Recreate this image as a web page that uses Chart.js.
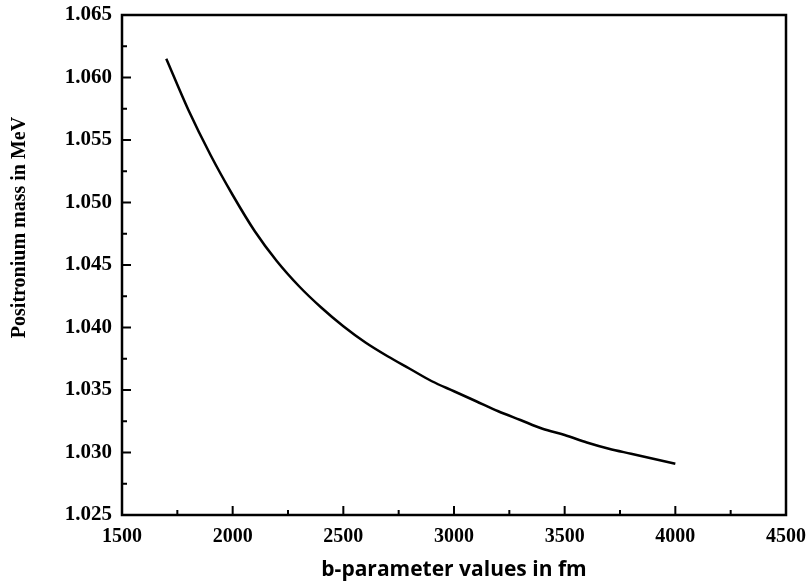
<!DOCTYPE html>
<html>
<head>
<meta charset="utf-8">
<script src="https://cdn.jsdelivr.net/npm/chart.js@4/dist/chart.umd.min.js"></script>
<style>
    html, body { margin: 0; padding: 0; background: #fff; }
    #wrap { width: 808px; height: 588px; }
</style>
</head>
<body>
<div id="wrap"><canvas id="massChart" width="808" height="588"></canvas></div>
<script>
// b-parameter (fm) vs positronium mass (MeV)
const bValues = [1700, 1800, 1900, 2000, 2100, 2200, 2300, 2400, 2500, 2600, 2700, 2800,
                 2900, 3000, 3100, 3200, 3300, 3400, 3500, 3600, 3700, 3800, 3900, 4000]
const massValues = [1.0615, 1.0574, 1.0538, 1.0506, 1.0477, 1.0453, 1.0433, 1.0416, 1.0401, 1.0388, 1.0377, 1.0367,
                    1.0357, 1.0349, 1.0341, 1.0333, 1.0326, 1.0319, 1.0314, 1.0308, 1.0303, 1.0299, 1.0295, 1.0291]

const xMin = 1500, xMax = 4500, xStep = 500
const yMin = 1.025, yMax = 1.065, yStep = 0.005

const xTitle = "b-parameter values in fm"
const yTitle = "Positronium mass in MeV"

const points = bValues.map((b, i) => ({ x: b, y: massValues[i] }))

// frame + inward ticks (major and minor) on left and bottom axes
const frameAndTicks = {
    id: "frameAndTicks",
    afterDraw(chart) {
        const ctx = chart.ctx
        const a = chart.chartArea
        const x = chart.scales.x
        const y = chart.scales.y

        ctx.save()
        ctx.strokeStyle = "#000"
        ctx.lineWidth = 2
        ctx.beginPath()

        const nx = Math.round((xMax - xMin) / (xStep / 2))
        for (let i = 0; i <= nx; i++) {
            const px = x.getPixelForValue(xMin + i * xStep / 2)
            const len = i % 2 === 0 ? 9 : 5
            ctx.moveTo(px, a.bottom)
            ctx.lineTo(px, a.bottom - len)
        }

        const ny = Math.round((yMax - yMin) / (yStep / 2))
        for (let i = 0; i <= ny; i++) {
            const py = y.getPixelForValue(yMin + i * yStep / 2)
            const len = i % 2 === 0 ? 9 : 5
            ctx.moveTo(a.left, py)
            ctx.lineTo(a.left + len, py)
        }
        ctx.stroke()

        ctx.lineWidth = 2.5
        ctx.strokeRect(a.left, a.top, a.right - a.left, a.bottom - a.top)
        ctx.restore()
    }
}

const ctx = document.getElementById("massChart").getContext("2d")

new Chart(ctx, {
    type: "line",
    data: {
        datasets: [{
            data: points,
            borderColor: "#000",
            borderWidth: 2.5,
            pointRadius: 0,
            cubicInterpolationMode: "monotone",
            fill: false
        }]
    },
    options: {
        responsive: false,
        animation: false,
        layout: {
            padding: { left: 0, top: 15, right: 22, bottom: 0 }
        },
        plugins: {
            legend: { display: false },
            tooltip: { enabled: false }
        },
        scales: {
            x: {
                type: "linear",
                min: xMin,
                max: xMax,
                ticks: {
                    stepSize: xStep,
                    color: "#000",
                    padding: 10,
                    maxRotation: 0,
                    callback: v => String(v),
                    font: { family: "Liberation Serif", size: 20, weight: "bold" }
                },
                grid: { display: false, drawTicks: false },
                border: { display: false },
                title: {
                    display: true,
                    text: xTitle,
                    color: "#000",
                    padding: { top: 0, bottom: 5 },
                    font: { family: "Open Sans", size: 21, weight: "bold" }
                },
                afterFit(scale) {
                    scale.height = 73
                    scale.paddingLeft = 0
                    scale.paddingRight = 0
                }
            },
            y: {
                min: yMin,
                max: yMax,
                ticks: {
                    stepSize: yStep,
                    color: "#000",
                    padding: 10,
                    callback: v => v.toFixed(3),
                    font: { family: "Liberation Serif", size: 21, weight: "bold" }
                },
                grid: { display: false, drawTicks: false },
                border: { display: false },
                title: {
                    display: true,
                    // leading spaces push the label up, as in the original
                    text: "               " + yTitle,
                    color: "#000",
                    padding: { top: 8, bottom: 0 },
                    font: { family: "Liberation Serif", size: 20, weight: "bold" }
                },
                afterFit(scale) {
                    scale.width = 122
                    scale.paddingTop = 0
                    scale.paddingBottom = 0
                }
            }
        }
    },
    plugins: [frameAndTicks]
})
</script>
</body>
</html>
